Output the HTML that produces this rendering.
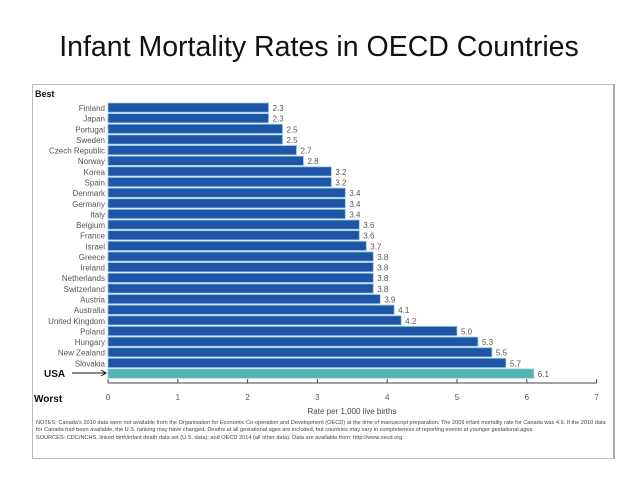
<!DOCTYPE html>
<html><head><meta charset="utf-8"><style>
body{margin:0;width:638px;height:479px;background:#fff;font-family:"Liberation Sans",sans-serif;overflow:hidden;position:relative}
#title{position:absolute;top:31px;left:0;width:638px;text-align:center;font-size:28.5px;color:#111}
#box{position:absolute;left:32px;top:84px;width:580px;height:373px;border:1px solid #bbb;border-right:2px solid #aaa}
.note{position:absolute;left:36px;font-size:5.6px;color:#444;width:570px;line-height:7.3px}
</style></head><body>
<div id="title">Infant Mortality Rates in OECD Countries</div>
<div id="box"></div>
<svg id="chart" width="638" height="479" style="position:absolute;left:0;top:0"></svg>
<div class="note" style="top:420px">NOTES: Canada's 2010 data were not available from the Organisation for Economic Co-operation and Development (OECD) at the time of manuscript preparation. The 2009 infant mortality rate for Canada was 4.9. If the 2010 data for Canada had been available, the U.S. ranking may have changed. Deaths at all gestational ages are included, but countries may vary in completeness of reporting events at younger gestational ages.<br>SOURCES: CDC/NCHS, linked birth/infant death data set (U.S. data); and OECD 2014 (all other data). Data are available from: http://www.oecd.org.</div>
<script>
const countries=["Finland","Japan","Portugal","Sweden","Czech Republic","Norway","Korea","Spain","Denmark","Germany","Italy","Belgium","France","Israel","Greece","Ireland","Netherlands","Switzerland","Austria","Australia","United Kingdom","Poland","Hungary","New Zealand","Slovakia","USA"];
const rates=[2.3,2.3,2.5,2.5,2.7,2.8,3.2,3.2,3.4,3.4,3.4,3.6,3.6,3.7,3.8,3.8,3.8,3.8,3.9,4.1,4.2,5.0,5.3,5.5,5.7,6.1];
const ticks=[0,1,2,3,4,5,6,7];
const svg=document.getElementById('chart');const NS='http://www.w3.org/2000/svg';
const x=v=>108+v*69.8;const y=i=>103+i*10.64;
function mk(t,a,p){const e=document.createElementNS(NS,t);for(const k in a)e.setAttribute(k,a[k]);(p||svg).appendChild(e);return e;}
countries.forEach((c,i)=>{
 const usa=c==="USA";
 const r=mk('rect',{x:x(0),y:y(i),width:x(rates[i])-x(0),height:9.2,fill:usa?'#4fb5b0':'#1f55a6',stroke:'#8cc4e8','stroke-width':0.8});
 
 
 const v=mk('text',{x:x(rates[i])+4,y:y(i)+8,'font-size':8,fill:'#555'});v.textContent=rates[i].toFixed(1);
 
 
 if(!usa){const l=mk('text',{x:x(0)-3,y:y(i)+8,'font-size':8,fill:'#555','text-anchor':'end'});l.textContent=c;
 
 }
});
const ax=mk('line',{x1:x(0),x2:x(7),y1:383,y2:383,stroke:'#444','stroke-width':1});


ticks.forEach(t=>{mk('line',{x1:x(t),x2:x(t),y1:379,y2:383,stroke:'#444'});
 const l=mk('text',{x:x(t),y:400,'font-size':8,fill:'#555','text-anchor':'middle'});l.textContent=t;
 
 });
const at=mk('text',{x:352,y:414,'font-size':8,fill:'#444','text-anchor':'middle'});at.textContent='Rate per 1,000 live births';


const b=mk('text',{x:35,y:97,'font-size':9,'font-weight':'bold',fill:'#111'});b.textContent='Best';


const w=mk('text',{x:34,y:402,'font-size':10,'font-weight':'bold',fill:'#111'});w.textContent='Worst';


const u=mk('text',{x:44,y:377,'font-size':10,'font-weight':'bold',fill:'#111'});u.textContent='USA';


const ar=mk('path',{d:'M72 373 L106 373 M101 370 L106 373 L101 376',stroke:'#111',fill:'none','stroke-width':1});


</script>
</body></html>
